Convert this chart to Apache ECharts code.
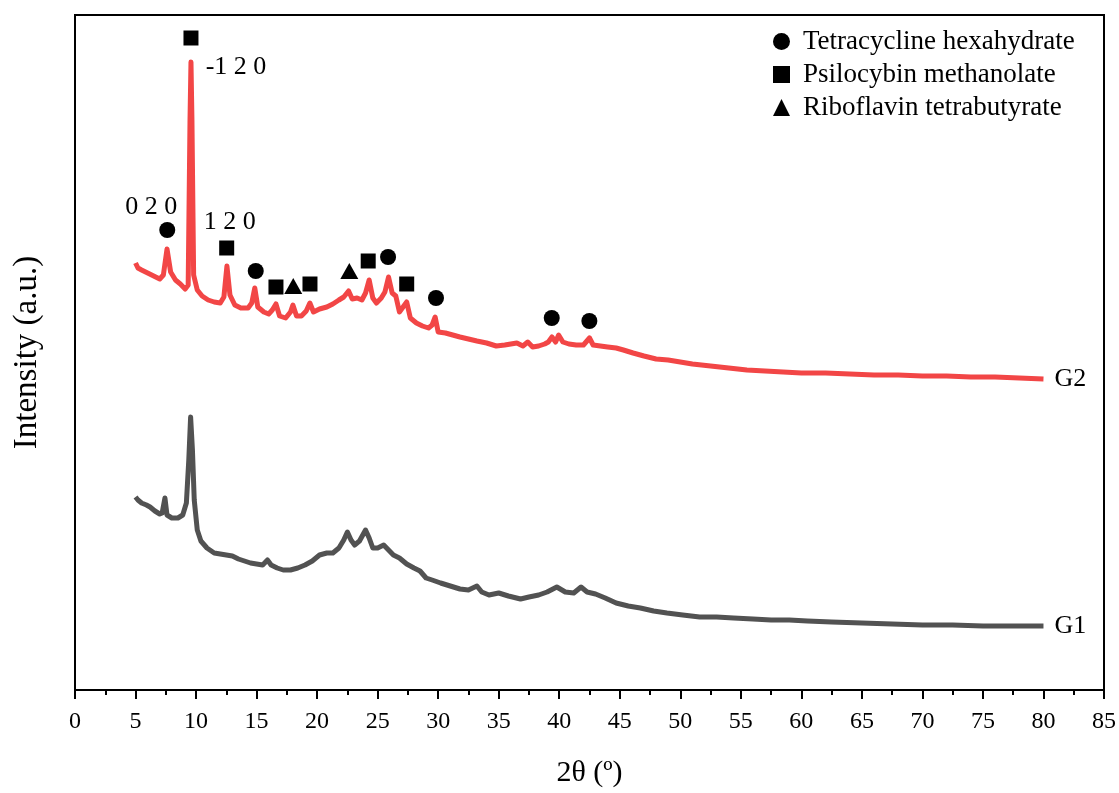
<!DOCTYPE html>
<html>
<head>
<meta charset="utf-8">
<script src="https://cdn.jsdelivr.net/npm/echarts@6/dist/echarts.min.js"></script>
<style>
  html, body { margin: 0; padding: 0; background: #fff; }
  #chart { width: 1119px; height: 793px; }
</style>
</head>
<body>
<div id="chart"></div>
<script>
// XRD patterns of G1 and G2, intensity in arbitrary units
const g2Angles = [5.0,5.2,5.5,6.0,6.5,7.0,7.3,7.6,7.9,8.3,8.7,9.1,9.35,9.5,9.58,9.66,9.8,10.1,10.5,11.0,11.5,12.0,12.3,12.55,12.8,13.2,13.7,14.3,14.6,14.85,15.1,15.6,16.0,16.3,16.6,16.9,17.4,17.8,18.0,18.3,18.7,19.1,19.4,19.7,20.2,20.8,21.3,21.8,22.2,22.6,22.9,23.3,23.7,24.0,24.3,24.6,24.9,25.3,25.6,25.9,26.2,26.5,26.8,27.1,27.4,27.7,28.2,28.7,29.2,29.5,29.75,30.0,30.6,31.2,31.8,32.5,33.2,34.0,34.8,35.5,36.0,36.5,37.0,37.4,37.8,38.3,38.8,39.1,39.4,39.7,39.95,40.3,40.8,41.4,42.0,42.5,42.8,43.4,44.0,44.7,45.3,46.1,47.0,48.0,49.0,50.0,51.0,52.5,54.0,55.5,57.0,58.5,60.0,62.0,64.0,66.0,68.0,70.0,72.0,74.0,76.0,78.0,80.0];
const g2Intensity = [427,422,420,417,414,411,415,441,418,410,406,401,405,570,628,570,415,400,394,390,388,387,393,424,395,385,382,382,387,402,383,378,376,380,386,374,372,378,385,374,374,379,387,378,381,383,386,390,393,399,391,392,390,397,410,392,387,392,398,413,397,394,378,383,388,372,367,364,362,365,373,358,357,355,353,351,349,347,344,345,346,347,344,348,343,344,346,348,353,348,355,348,346,345,345,352,345,344,343,342,340,337,334,331,330,328,326,324,322,320,319,318,317,317,316,315,315,314,314,313,313,312,311];

const g1Angles = [5.0,5.2,5.5,5.9,6.2,6.6,7.0,7.2,7.43,7.6,8.0,8.5,8.9,9.2,9.4,9.55,9.7,9.85,10.1,10.4,10.9,11.5,12.0,12.5,13.0,13.5,14.0,14.5,15.0,15.5,15.9,16.2,16.7,17.2,17.8,18.4,19.0,19.6,20.2,20.8,21.3,21.8,22.2,22.5,22.8,23.1,23.5,24.0,24.3,24.6,25.0,25.5,25.9,26.3,26.8,27.4,28.0,28.5,29.0,29.5,30.2,31.0,31.8,32.5,33.2,33.6,34.2,35.0,35.8,36.8,37.5,38.3,39.0,39.8,40.5,41.2,41.8,42.3,43.0,43.8,44.7,45.7,46.7,47.8,48.9,50.2,51.6,53.0,54.4,56.0,57.5,59.0,60.5,62.5,65.0,67.5,70.0,72.5,75.0,77.5,80.0];
const g1Intensity = [193,190,187,185,183,179,176,177,192,175,172,172,175,187,230,273,240,190,160,149,142,137,136,135,134,131,129,127,126,125,130,125,122,120,120,122,125,129,135,137,137,142,150,158,150,145,149,160,152,142,142,145,140,135,132,126,122,119,112,110,107,104,101,100,104,98,95,97,94,91,93,95,98,103,98,97,103,98,96,92,87,84,82,79,77,75,73,73,72,71,70,70,69,68,67,66,65,65,64,64,64];

// Reference phase peaks marked above the G2 pattern
const tetracyclinePeaks = [[7.62,460],[14.93,419],[25.86,433],[29.82,392],[39.38,372],[42.49,369]];
const psilocybinPeaks = [[9.58,652],[12.53,442],[16.6,403],[19.41,406],[24.22,429],[27.4,406]];
const riboflavinPeaks = [[18.03,404],[22.66,419]];

// Miller indices of the labelled reflections
const millerLabels = { '7.62': '0 2 0', '9.58': '-1 2 0', '12.53': '1 2 0' };

const xTicks = { min: 0, max: 85, step: 5 };

const serif = '"Liberation Serif", "Times New Roman", serif';

function zip(xs, ys) { return xs.map((x, i) => [x, ys[i]]); }

const labelOffsets = { '7.62': [-16, -23], '9.58': [45, 29], '12.53': [3, -26] };

function peakData(points) {
  return points.map(p => {
    const key = String(p[0]);
    if (millerLabels[key]) {
      return {
        value: p,
        label: {
          show: true, position: 'inside', offset: labelOffsets[key],
          formatter: millerLabels[key], color: '#000', fontSize: 26, fontFamily: serif
        }
      };
    }
    return { value: p };
  });
}

const chart = echarts.init(document.getElementById('chart'), null, { renderer: 'canvas' });

const markerStyle = { color: '#000', opacity: 1 };

chart.setOption({
  animation: false,
  backgroundColor: '#fff',
  grid: {
    left: 75, right: 15, top: 15, bottom: 103,
    containLabel: false, outerBoundsMode: 'none',
    show: true, borderColor: '#000', borderWidth: 2
  },
  legend: {
    data: ['Tetracycline hexahydrate', 'Psilocybin methanolate', 'Riboflavin tetrabutyrate'],
    orient: 'vertical',
    left: 768, top: 23,
    itemWidth: 17, itemHeight: 17, itemGap: 6,
    textStyle: { fontFamily: serif, fontSize: 27, color: '#000', padding: [0, 0, 0, 8] },
    selectedMode: false
  },
  xAxis: {
    type: 'value',
    min: xTicks.min, max: xTicks.max, interval: xTicks.step,
    name: '2θ (º)', nameLocation: 'middle', nameGap: 68,
    nameTextStyle: { fontFamily: serif, fontSize: 30, color: '#000' },
    axisLine: { show: true, lineStyle: { color: '#000', width: 2 } },
    axisTick: { show: true, length: 9, lineStyle: { color: '#000', width: 2 } },
    minorTick: { show: true, splitNumber: 2, length: 5, lineStyle: { color: '#000', width: 2 } },
    axisLabel: { fontFamily: serif, fontSize: 24, color: '#000', margin: 20 },
    splitLine: { show: false }
  },
  yAxis: {
    type: 'value', min: 0, max: 675,
    name: 'Intensity (a.u.)', nameLocation: 'middle', nameGap: 31,
    nameTextStyle: { fontFamily: serif, fontSize: 33, color: '#000' },
    axisLine: { show: true, lineStyle: { color: '#000', width: 2 } },
    axisTick: { show: false },
    axisLabel: { show: false },
    splitLine: { show: false }
  },
  series: [
    {
      name: 'G1', type: 'line', data: zip(g1Angles, g1Intensity),
      showSymbol: false, symbol: 'none',
      lineStyle: { color: '#525252', width: 5, join: 'round' },
      endLabel: { show: true, formatter: 'G1', distance: 11, fontFamily: serif, fontSize: 26, color: '#000' }
    },
    {
      name: 'G2', type: 'line', data: zip(g2Angles, g2Intensity),
      showSymbol: false, symbol: 'none',
      lineStyle: { color: '#f24646', width: 5, join: 'round' },
      endLabel: { show: true, formatter: 'G2', distance: 11, fontFamily: serif, fontSize: 26, color: '#000' }
    },
    {
      name: 'Tetracycline hexahydrate', type: 'scatter', symbol: 'circle', symbolSize: 16,
      itemStyle: markerStyle, data: peakData(tetracyclinePeaks), z: 5
    },
    {
      name: 'Psilocybin methanolate', type: 'scatter', symbol: 'rect', symbolSize: 15,
      itemStyle: markerStyle, data: peakData(psilocybinPeaks), z: 5
    },
    {
      name: 'Riboflavin tetrabutyrate', type: 'scatter', symbol: 'triangle', symbolSize: [18, 16],
      itemStyle: markerStyle, data: peakData(riboflavinPeaks), z: 5
    }
  ]
});
</script>
</body>
</html>
